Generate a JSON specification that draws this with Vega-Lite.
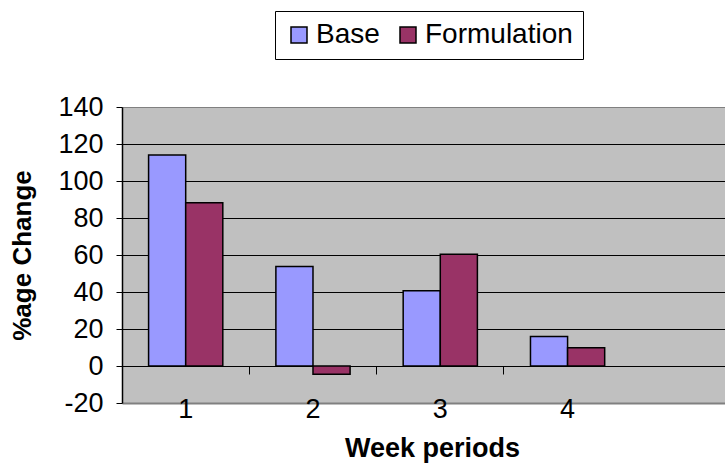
{
  "$schema": "https://vega.github.io/schema/vega-lite/v6.json",
  "width": 603,
  "height": 296,
  "autosize": {"type": "none"},
  "padding": {"left": 122, "top": 107, "right": 0, "bottom": 61},
  "background": "white",
  "config": {
    "view": {"fill": "#C0C0C0", "stroke": null},
    "font": "Liberation Sans"
  },
  "data": {
    "values": [
      {"week": "1", "series": "Base", "value": 114},
      {"week": "1", "series": "Formulation", "value": 88.2},
      {"week": "2", "series": "Base", "value": 53.8},
      {"week": "2", "series": "Formulation", "value": -4.5},
      {"week": "3", "series": "Base", "value": 40.7},
      {"week": "3", "series": "Formulation", "value": 60.4},
      {"week": "4", "series": "Base", "value": 16},
      {"week": "4", "series": "Formulation", "value": 9.8}
    ]
  },
  "layer": [
    {
      "mark": {"type": "bar", "stroke": "black", "strokeWidth": 1.5},
      "encoding": {
        "x": {
          "field": "week",
          "type": "nominal",
          "scale": {"paddingInner": 0.417, "paddingOuter": 0.577, "align": 0.181},
          "axis": {
            "orient": "bottom",
            "title": "Week periods",
            "titleFontSize": 27,
            "titleFontWeight": "bold",
            "titleColor": "black",
            "titleX": 310,
            "titlePadding": 13,
            "labelFontSize": 27,
            "labelColor": "black",
            "labelAngle": 0,
            "labelPadding": -7,
            "ticks": false,
            "domain": false,
            "grid": false
          }
        },
        "xOffset": {
          "field": "series",
          "type": "nominal",
          "scale": {"paddingInner": 0, "paddingOuter": 0}
        },
        "y": {
          "field": "value",
          "type": "quantitative",
          "scale": {"domain": [-20, 140], "nice": false},
          "axis": {
            "values": [-20, 0, 20, 40, 60, 80, 100, 120, 140],
            "tickCount": 12,
            "labelExpr": "datum.value < 0 ? '-' + abs(datum.value) : '' + datum.value",
            "labelOverlap": false,
            "grid": true,
            "gridColor": {"condition": {"test": "datum.value == 140 || datum.value == -20", "value": "#808080"}, "value": "#000000"},
            "gridWidth": {"condition": {"test": "datum.value == -20", "value": 2}, "value": 1},
            "gridOpacity": 1,
            "domainColor": "black",
            "domainWidth": 1.5,
            "tickColor": "black",
            "tickSize": 6,
            "labelFontSize": 27,
            "labelColor": "black",
            "labelPadding": 13,
            "title": "%age Change",
            "titleFontSize": 26,
            "titleFontWeight": "bold",
            "titleColor": "black",
            "titlePadding": 22
          }
        },
        "color": {
          "field": "series",
          "type": "nominal",
          "scale": {"domain": ["Base", "Formulation"], "range": ["#9999FF", "#993366"]},
          "legend": {
            "title": null,
            "orient": "none",
            "direction": "horizontal",
            "legendX": 153,
            "legendY": -96,
            "fillColor": "white",
            "strokeColor": "black",
            "padding": 10,
            "symbolType": "square",
            "symbolSize": 256,
            "symbolStrokeColor": "black",
            "symbolStrokeWidth": 1.5,
            "symbolOpacity": 1,
            "labelFontSize": 28,
            "labelColor": "black",
            "labelOffset": 3,
            "columnPadding": 14
          }
        }
      }
    },
    {
      "mark": {"type": "bar", "opacity": 0},
      "encoding": {
        "x": {
          "field": "week",
          "type": "nominal",
          "axis": {
            "orient": "bottom",
            "title": null,
            "labels": false,
            "domain": false,
            "grid": false,
            "ticks": true,
            "tickColor": "black",
            "tickSize": 8,
            "bandPosition": -0.358,
            "offset": -37
          }
        },
        "y": {"field": "value", "type": "quantitative"}
      }
    }
  ],
  "resolve": {"axis": {"x": "independent"}}
}
